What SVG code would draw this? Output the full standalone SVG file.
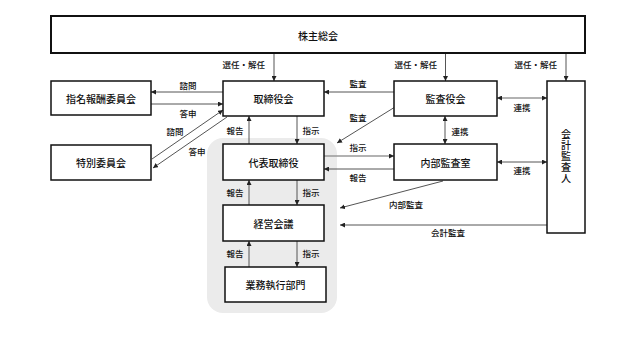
<svg xmlns="http://www.w3.org/2000/svg" width="630" height="354" viewBox="0 0 630 354">
<defs>
<marker id="ah" viewBox="0 0 6 6" refX="6" refY="3" markerWidth="5" markerHeight="5" markerUnits="userSpaceOnUse" orient="auto-start-reverse">
<path d="M0,0 L6,3 L0,6 z" fill="#222"/>
</marker>
<style>
.box{fill:#fff;stroke:#111;stroke-width:1.5}
.bt{font-family:"Noto Sans CJK JP","Noto Sans",sans-serif;font-size:10px;font-weight:500;fill:#111;text-anchor:middle;dominant-baseline:central}
.vt{font-family:"Noto Sans CJK JP","Noto Sans",sans-serif;font-size:10px;font-weight:500;fill:#111;text-anchor:middle;writing-mode:vertical-rl;letter-spacing:1px}
.lb{font-family:"Noto Sans CJK JP","Noto Sans",sans-serif;font-size:8.5px;font-weight:500;fill:#111;text-anchor:middle;dominant-baseline:central}
.c{fill:none;stroke:#555;stroke-width:1;marker-end:url(#ah)}
.cl{fill:none;stroke:#999;stroke-width:1.3;marker-end:url(#ah)}
.d{marker-start:url(#ah)}
</style>
</defs>
<rect x="207" y="138" width="130" height="175" rx="16" fill="#ebebeb"/>

<g id="connectors">
<line class="c" x1="274" y1="53" x2="274" y2="81"/>
<line class="c" x1="445.5" y1="53" x2="445.5" y2="81"/>
<line class="c" x1="566" y1="53" x2="566" y2="81"/>
<line class="c" x1="223" y1="92" x2="151" y2="92"/>
<line class="c" x1="151" y1="104" x2="223" y2="104"/>
<line class="c" x1="152" y1="159" x2="223" y2="110"/>
<line class="c" x1="227" y1="117" x2="153" y2="168"/>
<line class="c" x1="394" y1="92" x2="324" y2="92"/>
<line class="c" x1="395" y1="107" x2="337" y2="143"/>
<line class="c" x1="249" y1="144" x2="249" y2="116"/>
<line class="c" x1="297" y1="116" x2="297" y2="144"/>
<line class="cl" x1="324" y1="156" x2="394" y2="156"/>
<line class="c" x1="394" y1="169" x2="324" y2="169"/>
<line class="cl d" x1="497" y1="98" x2="547" y2="98"/>
<line class="c d" x1="445" y1="116" x2="445" y2="144"/>
<line class="c d" x1="497" y1="162" x2="547" y2="162"/>
<line class="c" x1="443" y1="181" x2="340" y2="208"/>
<line class="c" x1="547" y1="225" x2="340" y2="225"/>
<line class="c" x1="249" y1="205" x2="249" y2="180"/>
<line class="c" x1="297" y1="180" x2="297" y2="205"/>
<line class="c" x1="249" y1="267" x2="249" y2="241"/>
<line class="c" x1="297" y1="241" x2="297" y2="267"/>
<g>
<text class="lb" x="265" y="64" style="text-anchor:end">選任・解任</text>
<text class="lb" x="437" y="64" style="text-anchor:end">選任・解任</text>
<text class="lb" x="557" y="64" style="text-anchor:end">選任・解任</text>
<text class="lb" x="188" y="85">諮問</text>
<text class="lb" x="188" y="113">答申</text>
<text class="lb" x="175" y="131">諮問</text>
<text class="lb" x="197" y="151">答申</text>
<text class="lb" x="358" y="83">監査</text>
<text class="lb" x="358" y="117">監査</text>
<text class="lb" x="235" y="130">報告</text>
<text class="lb" x="311" y="130">指示</text>
<text class="lb" x="358" y="147">指示</text>
<text class="lb" x="358" y="177">報告</text>
<text class="lb" x="522" y="107">連携</text>
<text class="lb" x="460" y="131">連携</text>
<text class="lb" x="522" y="170">連携</text>
<text class="lb" x="235" y="192">報告</text>
<text class="lb" x="311" y="192">指示</text>
<text class="lb" x="235" y="253">報告</text>
<text class="lb" x="311" y="253">指示</text>
<text class="lb" x="406" y="204">内部監査</text>
<text class="lb" x="448" y="232">会計監査</text>
</g>
</g>

<g id="shareholders">
<rect class="box" x="51" y="16" width="534" height="37" style="stroke-width:2"/>
<text class="bt" x="318" y="35">株主総会</text>
</g>
<g id="board">
<rect class="box" x="223" y="81" width="101" height="35"/>
<text class="bt" x="273.5" y="98.5">取締役会</text>
</g>
<g id="nomination">
<rect class="box" x="51" y="81" width="100" height="34"/>
<text class="bt" x="101" y="98">指名報酬委員会</text>
</g>
<g id="special">
<rect class="box" x="51" y="145" width="100" height="35"/>
<text class="bt" x="101" y="162.5">特別委員会</text>
</g>
<g id="auditboard">
<rect class="box" x="394" y="81" width="103" height="35"/>
<text class="bt" x="445.5" y="98.5">監査役会</text>
</g>
<g id="ceo">
<rect class="box" x="223" y="144" width="101" height="36"/>
<text class="bt" x="273.5" y="162">代表取締役</text>
</g>
<g id="internalaudit">
<rect class="box" x="394" y="144" width="103" height="36"/>
<text class="bt" x="445.5" y="162">内部監査室</text>
</g>
<g id="mgmt">
<rect class="box" x="223" y="205" width="101" height="36"/>
<text class="bt" x="273.5" y="223">経営会議</text>
</g>
<g id="exec">
<rect class="box" x="225" y="267" width="101" height="35"/>
<text class="bt" x="275.5" y="284.5">業務執行部門</text>
</g>
<g id="accountant">
<rect class="box" x="547" y="81" width="38" height="152"/>
<text class="vt" x="566" y="157">会計監査人</text>
</g>
</svg>
